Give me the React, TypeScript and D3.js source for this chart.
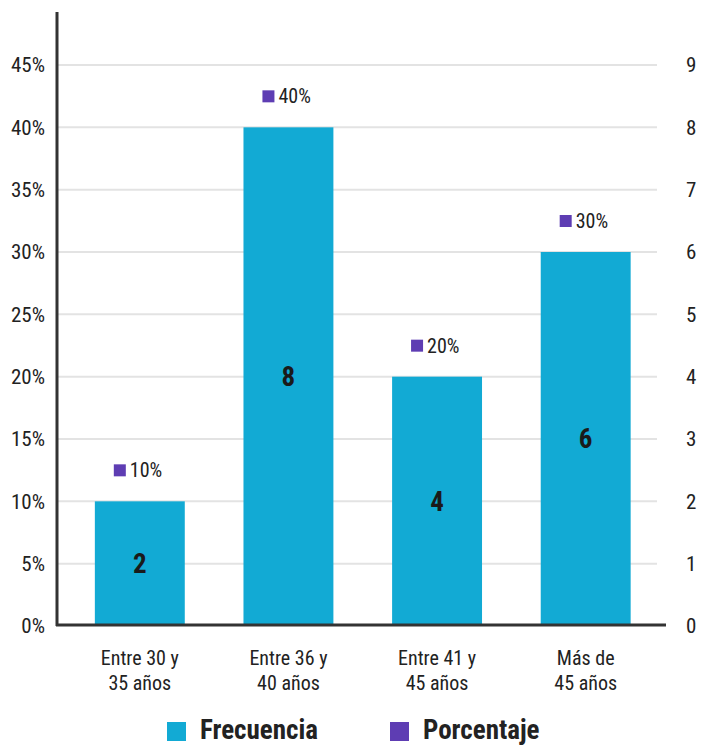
import React from "react";
import * as d3 from "d3";

const categories = [["Entre 30 y", "35 años"], ["Entre 36 y", "40 años"], ["Entre 41 y", "45 años"], ["Más de", "45 años"]];
const frecuencia = [2, 8, 4, 6];
const porcentaje = [10, 40, 20, 30];
const pctTicks = [0, 5, 10, 15, 20, 25, 30, 35, 40, 45];
const freqTicks = [0, 1, 2, 3, 4, 5, 6, 7, 8, 9];
const legendItems = ["Frecuencia", "Porcentaje"];

const W = 701, H = 746;
const BLUE = "#12aad4";
const PURPLE = "#5e3db3";
const FONT = "'Liberation Sans Narrow', 'Roboto Condensed', Roboto, sans-serif";

export default function App() {
  const x = d3.scaleBand<number>().domain(d3.range(categories.length)).range([65.5, 660]).paddingInner(0.395).paddingOuter(0.1975);
  const yPct = d3.scaleLinear().domain([0, 45]).range([626, 65]);
  const yFreq = d3.scaleLinear().domain([0, 9]).range([626, 65]);
  const bw = x.bandwidth();
  return (
    <svg width={W} height={H} style={{ position: "absolute", left: 0, top: 0, background: "#fff" }} fontFamily={FONT}>
      {pctTicks.map((t) => (
        <g key={t}>
          {t > 0 && <line x1={57} x2={657} y1={yPct(t)} y2={yPct(t)} stroke="#e3e3e3" strokeWidth={2} />}
          <text x={45} y={yPct(t)} dy="0.35em" textAnchor="end" fontSize={21} fill="#222">{t}%</text>
        </g>
      ))}
      {freqTicks.map((t) => (
        <text key={t} x={686} y={yFreq(t)} dy="0.35em" textAnchor="start" fontSize={21} fill="#222">{t}</text>
      ))}
      {frecuencia.map((v, i) => (
        <g key={i}>
          <rect x={x(i)} y={yFreq(v)} width={bw} height={yFreq(0) - yFreq(v)} fill={BLUE} />
          <text x={x(i)! + bw / 2} y={(yFreq(v) + yFreq(0)) / 2} dy="0.35em" textAnchor="middle" fontSize={27} fontWeight="bold" fill="#1a1a1a">{v}</text>
        </g>
      ))}
      {porcentaje.map((p, i) => {
        const cx = x(i)! + bw / 2;
        const cy = yPct(p) - 31;
        return (
          <g key={i}>
            <rect x={cx - 26} y={cy - 6} width={12} height={12} fill={PURPLE} />
            <text x={cx - 10} y={cy} dy="0.35em" fontSize={20} fill="#222">{p}%</text>
          </g>
        );
      })}
      <line x1={57} x2={57} y1={12} y2={626} stroke="#333" strokeWidth={3} />
      <line x1={56} x2={666} y1={625} y2={625} stroke="#333" strokeWidth={3} />
      {categories.map((c, i) => (
        <text key={i} x={x(i)! + bw / 2} textAnchor="middle" fontSize={20} fill="#222">
          <tspan x={x(i)! + bw / 2} y={665}>{c[0]}</tspan>
          <tspan x={x(i)! + bw / 2} y={690}>{c[1]}</tspan>
        </text>
      ))}
      {legendItems.map((l, i) => {
        const lx = i === 0 ? 167 : 390;
        return (
          <g key={l}>
            <rect x={lx} y={722} width={19} height={19} fill={i === 0 ? BLUE : PURPLE} />
            <text x={lx + 33} y={739} fontSize={27} fontWeight="bold" fill="#222">{l}</text>
          </g>
        );
      })}
    </svg>
  );
}
